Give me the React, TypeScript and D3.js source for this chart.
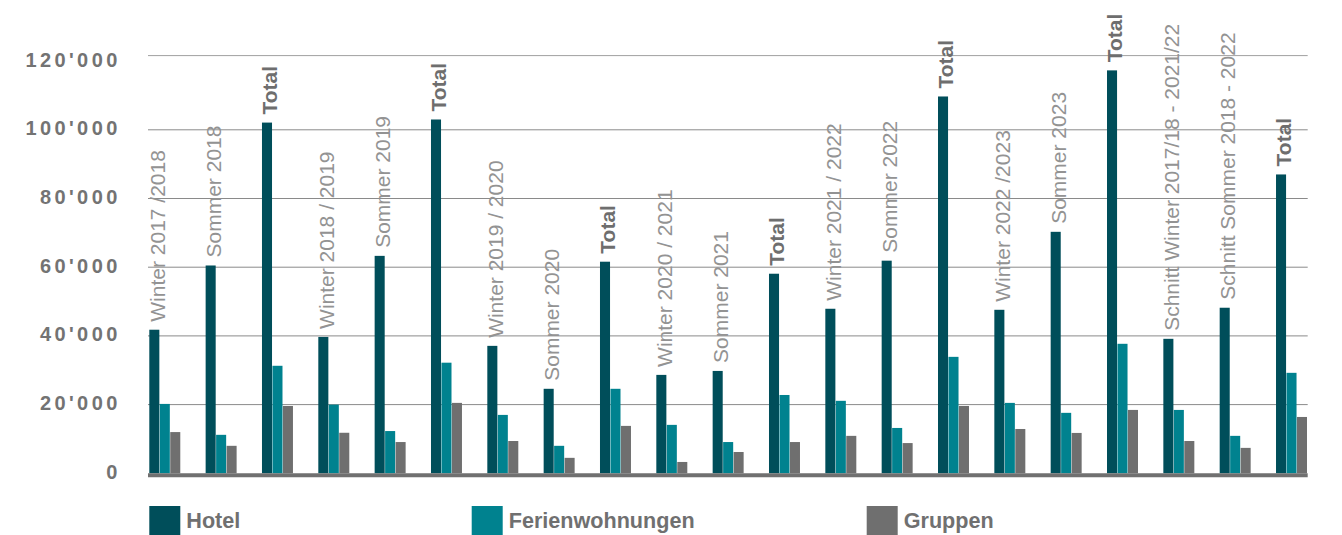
import * as React from 'react'
import * as d3 from 'd3'

// categories along the x axis (Total repeats, so bars are keyed by index)
const categories = [
  'Winter 2017 /2018',
  'Sommer 2018',
  'Total',
  'Winter 2018 / 2019',
  'Sommer 2019',
  'Total',
  'Winter 2019 / 2020',
  'Sommer 2020',
  'Total',
  'Winter 2020 / 2021',
  'Sommer 2021',
  'Total',
  'Winter 2021 / 2022',
  'Sommer 2022',
  'Total',
  'Winter 2022 /2023',
  'Sommer 2023',
  'Total',
  'Schnitt Winter 2017/18 - 2021/22',
  'Schnitt Sommer 2018 - 2022',
  'Total',
]

const hotel = [
  41800, 60500, 102100, 39700, 63300, 103000, 37100, 24600, 61600, 28650, 29800,
  58100, 47900, 61900, 109700, 47600, 70300, 117300, 39150, 48200, 87000,
]
const ferienwohnungen = [
  20200, 11200, 31300, 20000, 12300, 32200, 17000, 8000, 24600, 14100, 9100,
  22800, 21100, 13200, 33900, 20500, 17600, 37700, 18450, 10900, 29250,
]
const gruppen = [
  12000, 8000, 19600, 11800, 9100, 20500, 9400, 4500, 13800, 3300, 6200,
  9100, 10900, 8800, 19600, 12900, 11750, 18450, 9400, 7400, 16400,
]

const seriesNames = ['Hotel', 'Ferienwohnungen', 'Gruppen']
const seriesColors = ['#004e5a', '#00828f', '#6f6f6f']
const yTicks = [0, 20000, 40000, 60000, 80000, 100000, 120000]

const WIDTH = 1342
const HEIGHT = 535
const margin = { left: 149.3, right: 35, top: 61.1, bottom: 473.3 }
const frameTop = 55.6
const legendX = [149.3, 471.7, 866.7]

const fmt = (v: number) => d3.format(',')(v).replace(/,/g, "'")

export default function App() {
  const series = [hotel, ferienwohnungen, gruppen]

  const x = d3
    .scaleBand<number>()
    .domain(d3.range(categories.length))
    .range([margin.left, WIDTH - margin.right])
    .paddingInner(0.45)
    .paddingOuter(0)

  const xInner = d3
    .scaleBand<number>()
    .domain(d3.range(seriesNames.length))
    .range([0, x.bandwidth()])
    .paddingInner(0.04)

  const y = d3.scaleLinear().domain([0, 120000]).range([margin.bottom, margin.top])

  const gridLeft = margin.left - 1.3
  const gridRight = WIDTH - margin.right + 0.7

  return (
    <div style={{ position: 'absolute', left: 0, top: 0 }}>
      <svg width={WIDTH} height={HEIGHT} style={{ display: 'block', background: '#fff' }}>
        {/* grid */}
        <g>
          {yTicks.slice(1, -1).map((t) => (
            <line
              key={t}
              x1={gridLeft}
              x2={gridRight}
              y1={y(t)}
              y2={y(t)}
              stroke="#8a8a8a"
              strokeWidth={1}
            />
          ))}
          <line x1={gridLeft} x2={gridRight} y1={frameTop} y2={frameTop} stroke="#a0a0a0" strokeWidth={1} />
        </g>

        {/* y axis labels */}
        <g
          fontFamily="'Liberation Sans', Arial, sans-serif"
          fontWeight="bold"
          fontSize={20}
          fill="#737373"
          textAnchor="end"
          letterSpacing={3.4}
        >
          {yTicks.map((t) => (
            <text key={t} x={120.7} y={y(t) - 1.5} dy="0.35em">
              {fmt(t)}
            </text>
          ))}
        </g>

        {/* bars */}
        <g>
          {categories.map((c, i) => (
            <g key={i} transform={`translate(${x(i)},0)`}>
              {series.map((s, k) => (
                <rect
                  key={k}
                  x={xInner(k)}
                  y={y(s[i])}
                  width={xInner.bandwidth()}
                  height={y(0) - y(s[i])}
                  fill={seriesColors[k]}
                />
              ))}
            </g>
          ))}
        </g>

        {/* baseline */}
        <line x1={gridLeft} x2={gridRight} y1={y(0) + 2} y2={y(0) + 2} stroke="#707070" strokeWidth={4} />

        {/* category labels */}
        <g fontFamily="'Liberation Sans', Arial, sans-serif" fontSize={21}>
          {categories.map((c, i) => {
            const bx = (x(i) as number) + 15.3
            const by = y(hotel[i]) - 8
            const isTotal = c === 'Total'
            return (
              <text
                key={i}
                transform={`translate(${bx},${by}) rotate(-90)`}
                fill={isTotal ? '#6e6e6e' : '#939393'}
                fontWeight={isTotal ? 'bold' : 'normal'}
              >
                {c}
              </text>
            )
          })}
        </g>

        {/* legend */}
        <g fontFamily="'Liberation Sans', Arial, sans-serif" fontWeight="bold" fontSize={21.6} fill="#707070">
          {seriesNames.map((n, k) => (
            <g key={n} transform={`translate(${legendX[k]},506)`}>
              <rect x={0} y={0} width={31} height={31} fill={seriesColors[k]} />
              <text x={37} y={21.7}>
                {n}
              </text>
            </g>
          ))}
        </g>
      </svg>
    </div>
  )
}
